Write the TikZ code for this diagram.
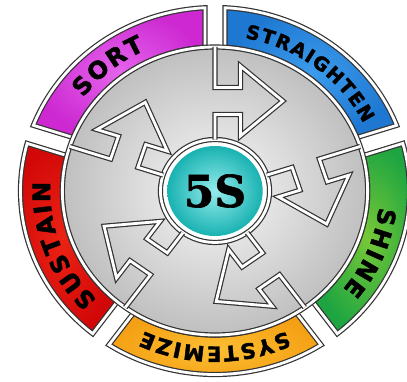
\documentclass[tikz,border=0pt]{standalone}
\usepackage{fontspec}
\newfontfamily\lblfamily[FakeBold=2, WordSpace=0.25]{DejaVu Sans}
\newfontfamily\hubfamily[FakeBold=1.5]{DejaVu Serif}
\usetikzlibrary{decorations.text}

\definecolor{sortin}{RGB}{228,100,235}
\definecolor{sortout}{RGB}{205,40,210}
\definecolor{straightin}{RGB}{60,155,235}
\definecolor{straightout}{RGB}{30,120,210}
\definecolor{shinein}{RGB}{120,200,55}
\definecolor{shineout}{RGB}{30,165,65}
\definecolor{systemin}{RGB}{252,190,50}
\definecolor{systemout}{RGB}{245,160,20}
\definecolor{sustainin}{RGB}{235,35,20}
\definecolor{sustainout}{RGB}{210,8,8}
\definecolor{tealin}{RGB}{150,235,235}
\definecolor{tealout}{RGB}{25,178,178}

\newcommand{\bandpath}[2]{({#1+\ao}:\Ro) arc[start angle=#1+\ao, end angle=#2-\ao, radius=\Ro]
  -- ({#2-\ai}:\Ri) arc[start angle=#2-\ai, end angle=#1+\ai, radius=\Ri] -- cycle}
\newcommand{\lblsize}[1]{\lblfamily\bfseries\fontsize{#1}{#1}\selectfont}
\newcommand{\bandlabel}[3]{\path[decorate, decoration={text along path, text align=center,
    text={|\lblsize{#2}|#3}}] ({#1+50}:\Rt) arc[start angle=#1+50, end angle=#1-50, radius=\Rt];}

\begin{document}
\begin{tikzpicture}[x=1pt, y=1pt,
    dbl/.style={draw=black!80, line width=1.2pt, double=white, double distance=2.8pt, line join=miter}
]
\useasboundingbox (0,0) rectangle (407,381);
\fill[white] (0,0) rectangle (407,381);
\pgfmathsetmacro{\Ro}{183.5}
\pgfmathsetmacro{\Ri}{144}
\pgfmathsetmacro{\Rt}{155.5}
\pgfmathsetmacro{\ao}{asin(9.5/\Ro)}
\pgfmathsetmacro{\ai}{asin(9.5/\Ri)}

\begin{scope}[shift={(215,190)}, xscale=1.06]
% Coloured bands
\shadedraw[dbl, inner color=straightin, outer color=straightout] \bandpath{18}{90};
\shadedraw[dbl, inner color=sortin, outer color=sortout] \bandpath{90}{162};
\shadedraw[dbl, inner color=sustainin, outer color=sustainout] \bandpath{162}{234};
\shadedraw[dbl, inner color=systemin, outer color=systemout] \bandpath{234}{306};
\shadedraw[dbl, inner color=shinein, outer color=shineout] \bandpath{-54}{18};

% Grey disc
\shade[inner color=gray!5, outer color=gray!50] (0,0) circle[radius=\Ri];
\draw[dbl] (0,0) circle[radius=\Ri];

% Ring round the hub
\fill[white] (0,0) circle[radius=51.5];
\draw[dbl] (0,0) circle[radius=51.5];

% Bent arrows
\foreach \r in {0,-72,-144,-216,-288}
  \draw[dbl, rotate=\r] (0,\Ri) -- (0,103.5) -- (24,103.5) -- (24,125) -- (64,90)
    -- (24,55) -- (24,76.5) -- (0,76.5) -- (0,51.5);

% Hub
\shade[inner color=tealin, outer color=tealout] (0,0) circle[radius=45];
\node[font=\hubfamily\bfseries\fontsize{44}{44}\selectfont] (hub) at (0,0) {5S};

% Band labels
\bandlabel{130}{24}{S O R T}
\bandlabel{52}{19}{S T R A I G H T E N}
\bandlabel{-22}{24}{S H I N E}
\bandlabel{270}{21}{S Y S T E M I Z E}
\bandlabel{200}{24}{S U S T A I N}
\end{scope}

\end{tikzpicture}
\end{document}
